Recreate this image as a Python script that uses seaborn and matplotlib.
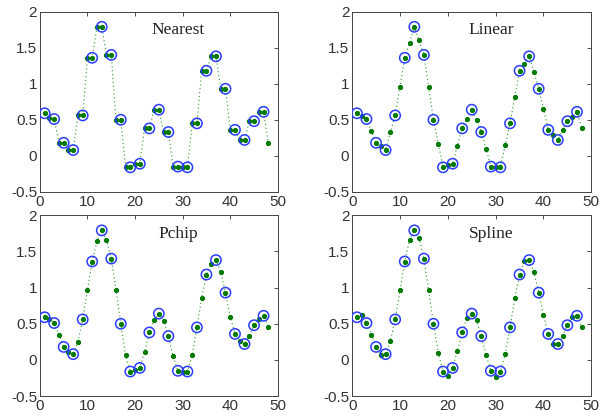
import numpy as np
import pandas as pd
import matplotlib
matplotlib.use('Agg')
import matplotlib.pyplot as plt
import seaborn as sns

# sample points (blue circles)
x_data = list(range(1, 48, 2))
y_data = [0.59, 0.51, 0.18, 0.08, 0.56, 1.36, 1.79, 1.40, 0.50, -0.16, -0.11, 0.38,
          0.64, 0.33, -0.15, -0.16, 0.45, 1.18, 1.38, 0.93, 0.36, 0.22, 0.48, 0.61]

# interpolated points at x = 1..48 (green dots)
x_fine = list(range(1, 49))
nearest = [0.59, 0.52, 0.51, 0.18, 0.18, 0.08, 0.08, 0.56, 0.56, 1.36, 1.36, 1.79,
           1.79, 1.40, 1.40, 0.50, 0.50, -0.16, -0.16, -0.11, -0.11, 0.38, 0.38, 0.64,
           0.64, 0.33, 0.33, -0.15, -0.15, -0.16, -0.16, 0.45, 0.45, 1.18, 1.18, 1.38,
           1.38, 0.93, 0.93, 0.36, 0.36, 0.22, 0.22, 0.48, 0.48, 0.61, 0.61, 0.18]
linear = [0.59, 0.55, 0.51, 0.35, 0.18, 0.13, 0.08, 0.33, 0.56, 0.96, 1.36, 1.57,
          1.79, 1.60, 1.40, 0.95, 0.50, 0.17, -0.16, -0.13, -0.11, 0.14, 0.38, 0.51,
          0.64, 0.49, 0.33, 0.10, -0.15, -0.15, -0.16, 0.15, 0.45, 0.82, 1.18, 1.28,
          1.38, 1.16, 0.93, 0.65, 0.36, 0.29, 0.22, 0.36, 0.48, 0.54, 0.61, 0.39]
pchip = [0.59, 0.57, 0.51, 0.35, 0.18, 0.11, 0.08, 0.25, 0.56, 0.97, 1.36, 1.64,
         1.79, 1.66, 1.40, 0.97, 0.50, 0.07, -0.16, -0.14, -0.11, 0.11, 0.38, 0.55,
         0.64, 0.54, 0.33, 0.05, -0.15, -0.16, -0.16, 0.07, 0.45, 0.86, 1.18, 1.32,
         1.38, 1.22, 0.93, 0.60, 0.36, 0.26, 0.22, 0.33, 0.48, 0.56, 0.61, 0.46]
spline = [0.59, 0.62, 0.51, 0.35, 0.18, 0.07, 0.08, 0.26, 0.56, 0.96, 1.36, 1.66,
          1.79, 1.69, 1.40, 0.96, 0.50, 0.10, -0.16, -0.22, -0.11, 0.12, 0.38, 0.58,
          0.64, 0.55, 0.33, 0.07, -0.15, -0.23, -0.16, 0.08, 0.45, 0.85, 1.18, 1.37,
          1.38, 1.21, 0.93, 0.62, 0.36, 0.22, 0.22, 0.33, 0.48, 0.59, 0.61, 0.46]

titles = ['Nearest', 'Linear', 'Pchip', 'Spline']
series = [nearest, linear, pchip, spline]

sns.set_style('white')
plt.rcParams['font.family'] = ['Liberation Sans', 'DejaVu Sans']

df_pts = pd.DataFrame({'x': x_data, 'y': y_data})

fig = plt.figure(figsize=(6.04, 4.17), dpi=100)
positions = [[0.066, 0.540, 0.394, 0.432],
             [0.583, 0.540, 0.396, 0.432],
             [0.066, 0.050, 0.394, 0.434],
             [0.583, 0.050, 0.396, 0.434]]

for pos, name, vals in zip(positions, titles, series):
    ax = fig.add_axes(pos)
    df_fine = pd.DataFrame({'x': x_fine, 'y': vals})
    sns.lineplot(data=df_fine, x='x', y='y', ax=ax, color='#2a9a2a',
                 linestyle=(0, (1, 2.5)), linewidth=0.8, marker='o', markersize=3,
                 markeredgecolor='#007a00', markerfacecolor='#007a00')
    sns.scatterplot(data=df_pts, x='x', y='y', ax=ax, marker='o', s=55,
                    facecolor='none', edgecolor='#2a3cff', linewidth=1.1, zorder=3)
    ax.text(29, 1.74, name, family='Liberation Serif', fontsize=12.5,
            ha='center', va='center', color='#222222')
    ax.set_xlim(0, 50)
    ax.set_ylim(-0.5, 2)
    ax.set_xticks([0, 10, 20, 30, 40, 50])
    ax.set_yticks([-0.5, 0, 0.5, 1, 1.5, 2])
    ax.set_yticklabels(['-0.5', '0', '0.5', '1', '1.5', '2'])
    ax.set_xlabel('')
    ax.set_ylabel('')
    ax.tick_params(direction='in', length=3, width=0.6, top=True, right=True,
                   labelsize=11, pad=2, colors='#333333')
    for s in ax.spines.values():
        s.set_linewidth(0.7)
        s.set_color('#444444')

fig.savefig('out.png', dpi=100)
